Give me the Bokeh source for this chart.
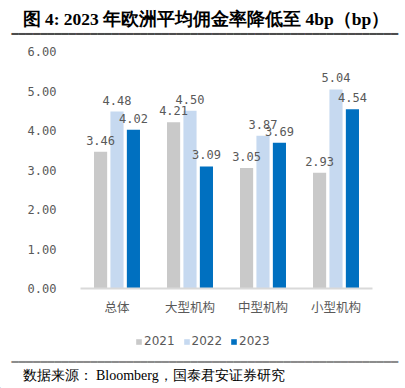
from bokeh.plotting import figure
from bokeh.layouts import column
from bokeh.models import (ColumnDataSource, FactorRange, Range1d,
                          Legend, LegendItem, FixedTicker, CustomJSTickFormatter)
from bokeh.transform import dodge
from bokeh.core.properties import value
from bokeh.embed import file_html
from bokeh.resources import INLINE

categories = ["总体", "大型机构", "中型机构", "小型机构"]
years = ["2021", "2022", "2023"]
v2021 = [3.46, 4.21, 3.05, 2.93]
v2022 = [4.48, 4.50, 3.87, 5.04]
v2023 = [4.02, 3.09, 3.69, 4.54]
y_ticks = [0, 1, 2, 3, 4, 5, 6]
title_text = "图 4: 2023 年欧洲平均佣金率降低至 4bp（bp）"
source_text = "数据来源：  Bloomberg，国泰君安证券研究"

colors = ["#C9C9C9", "#C6D9F0", "#0070C0"]
offsets = [-0.225, 0.0, 0.225]
W = 405
RULE = "━" * 54


def blank(height):
    # a figure whose data space equals its pixel space, for the page furniture
    f = figure(width=W, height=height, x_range=Range1d(0, W), y_range=Range1d(0, height),
               output_backend="svg", toolbar_location=None, min_border=0,
               x_axis_location=None, y_axis_location=None)
    f.grid.visible = False
    f.outline_line_color = None
    f.frame_align = False
    return f


def rule(f, y, color):
    f.text(x=[11], y=[y], text=[RULE], text_font=value("DejaVu Sans Mono"),
           text_font_size="11.9px", text_color=color,
           text_baseline="middle", text_align="left")


# ---- top: title + rule
top = blank(40)
top.text(x=[22], y=[22], text=[title_text], text_font=value("Liberation Serif"),
         text_font_size="17.5px", text_font_style="bold", text_color="#000000",
         text_baseline="middle", text_align="left")
rule(top, 7, "#4D4D4D")

# ---- main chart
src = ColumnDataSource(dict(
    cat=categories,
    v2021=v2021, v2022=v2022, v2023=v2023,
    l2021=["%.2f" % v for v in v2021],
    l2022=["%.2f" % v for v in v2022],
    l2023=["%.2f" % v for v in v2023],
))

p = figure(width=W, height=278, x_range=FactorRange(*categories, range_padding=0),
           y_range=Range1d(0, 6), output_backend="svg", toolbar_location=None,
           min_border_left=80, min_border_right=33, min_border_top=11,
           min_border_bottom=30)
p.frame_align = False
p.outline_line_color = None
p.xgrid.grid_line_color = None
p.ygrid.grid_line_color = None

for yr, col, off in zip(years, colors, offsets):
    p.vbar(x=dodge("cat", off, range=p.x_range), top="v" + yr, width=0.18,
           source=src, fill_color=col, line_color=None)
for yr, off in zip(years, offsets):
    p.text(x=dodge("cat", off, range=p.x_range), y="v" + yr, text="l" + yr,
           source=src, text_align="center", text_baseline="bottom", y_offset=-7,
           text_font=value("DejaVu Sans Mono"), text_font_size="12px",
           text_color="#595959")

p.yaxis.ticker = FixedTicker(ticks=y_ticks)
p.yaxis.formatter = CustomJSTickFormatter(code="return tick.toFixed(2);")
p.yaxis.axis_line_color = None
p.yaxis.major_tick_line_color = None
p.yaxis.minor_tick_line_color = None
p.yaxis.major_label_standoff = 18
p.yaxis.major_label_text_font = "DejaVu Sans Mono"
p.yaxis.major_label_text_font_size = "12px"
p.yaxis.major_label_text_color = "#595959"

p.xaxis.axis_line_color = "#D9D9D9"
p.xaxis.axis_line_width = 2
p.xaxis.major_tick_line_color = None
p.xaxis.minor_tick_line_color = None
p.xaxis.major_label_standoff = 2
p.xaxis.major_label_text_font = "Noto Sans CJK SC"
p.xaxis.major_label_text_font_size = "12.5px"
p.xaxis.major_label_text_color = "#595959"

# ---- bottom: legend, rule, source
bot = blank(70)
leg_r = [bot.vbar(x=[-1000], top=[1], width=1, fill_color=c, line_color=None) for c in colors]
legend = Legend(items=[LegendItem(label=yr, renderers=[r]) for yr, r in zip(years, leg_r)],
                orientation="horizontal", location=(135, 40), nrows=1,
                glyph_width=7, glyph_height=7, label_standoff=2, spacing=8,
                label_text_font="DejaVu Sans", label_text_font_size="12px",
                label_text_color="#595959", border_line_color=None,
                background_fill_alpha=0, padding=0, margin=0)
bot.add_layout(legend, "center")
rule(bot, 27, "#8C8C8C")
bot.text(x=[22], y=[13], text=[source_text], text_font=value("Liberation Serif"),
         text_font_size="14px", text_color="#000000",
         text_baseline="middle", text_align="left")

layout = column(top, p, bot, spacing=0)
open("out.html", "w").write(file_html(layout, INLINE))
